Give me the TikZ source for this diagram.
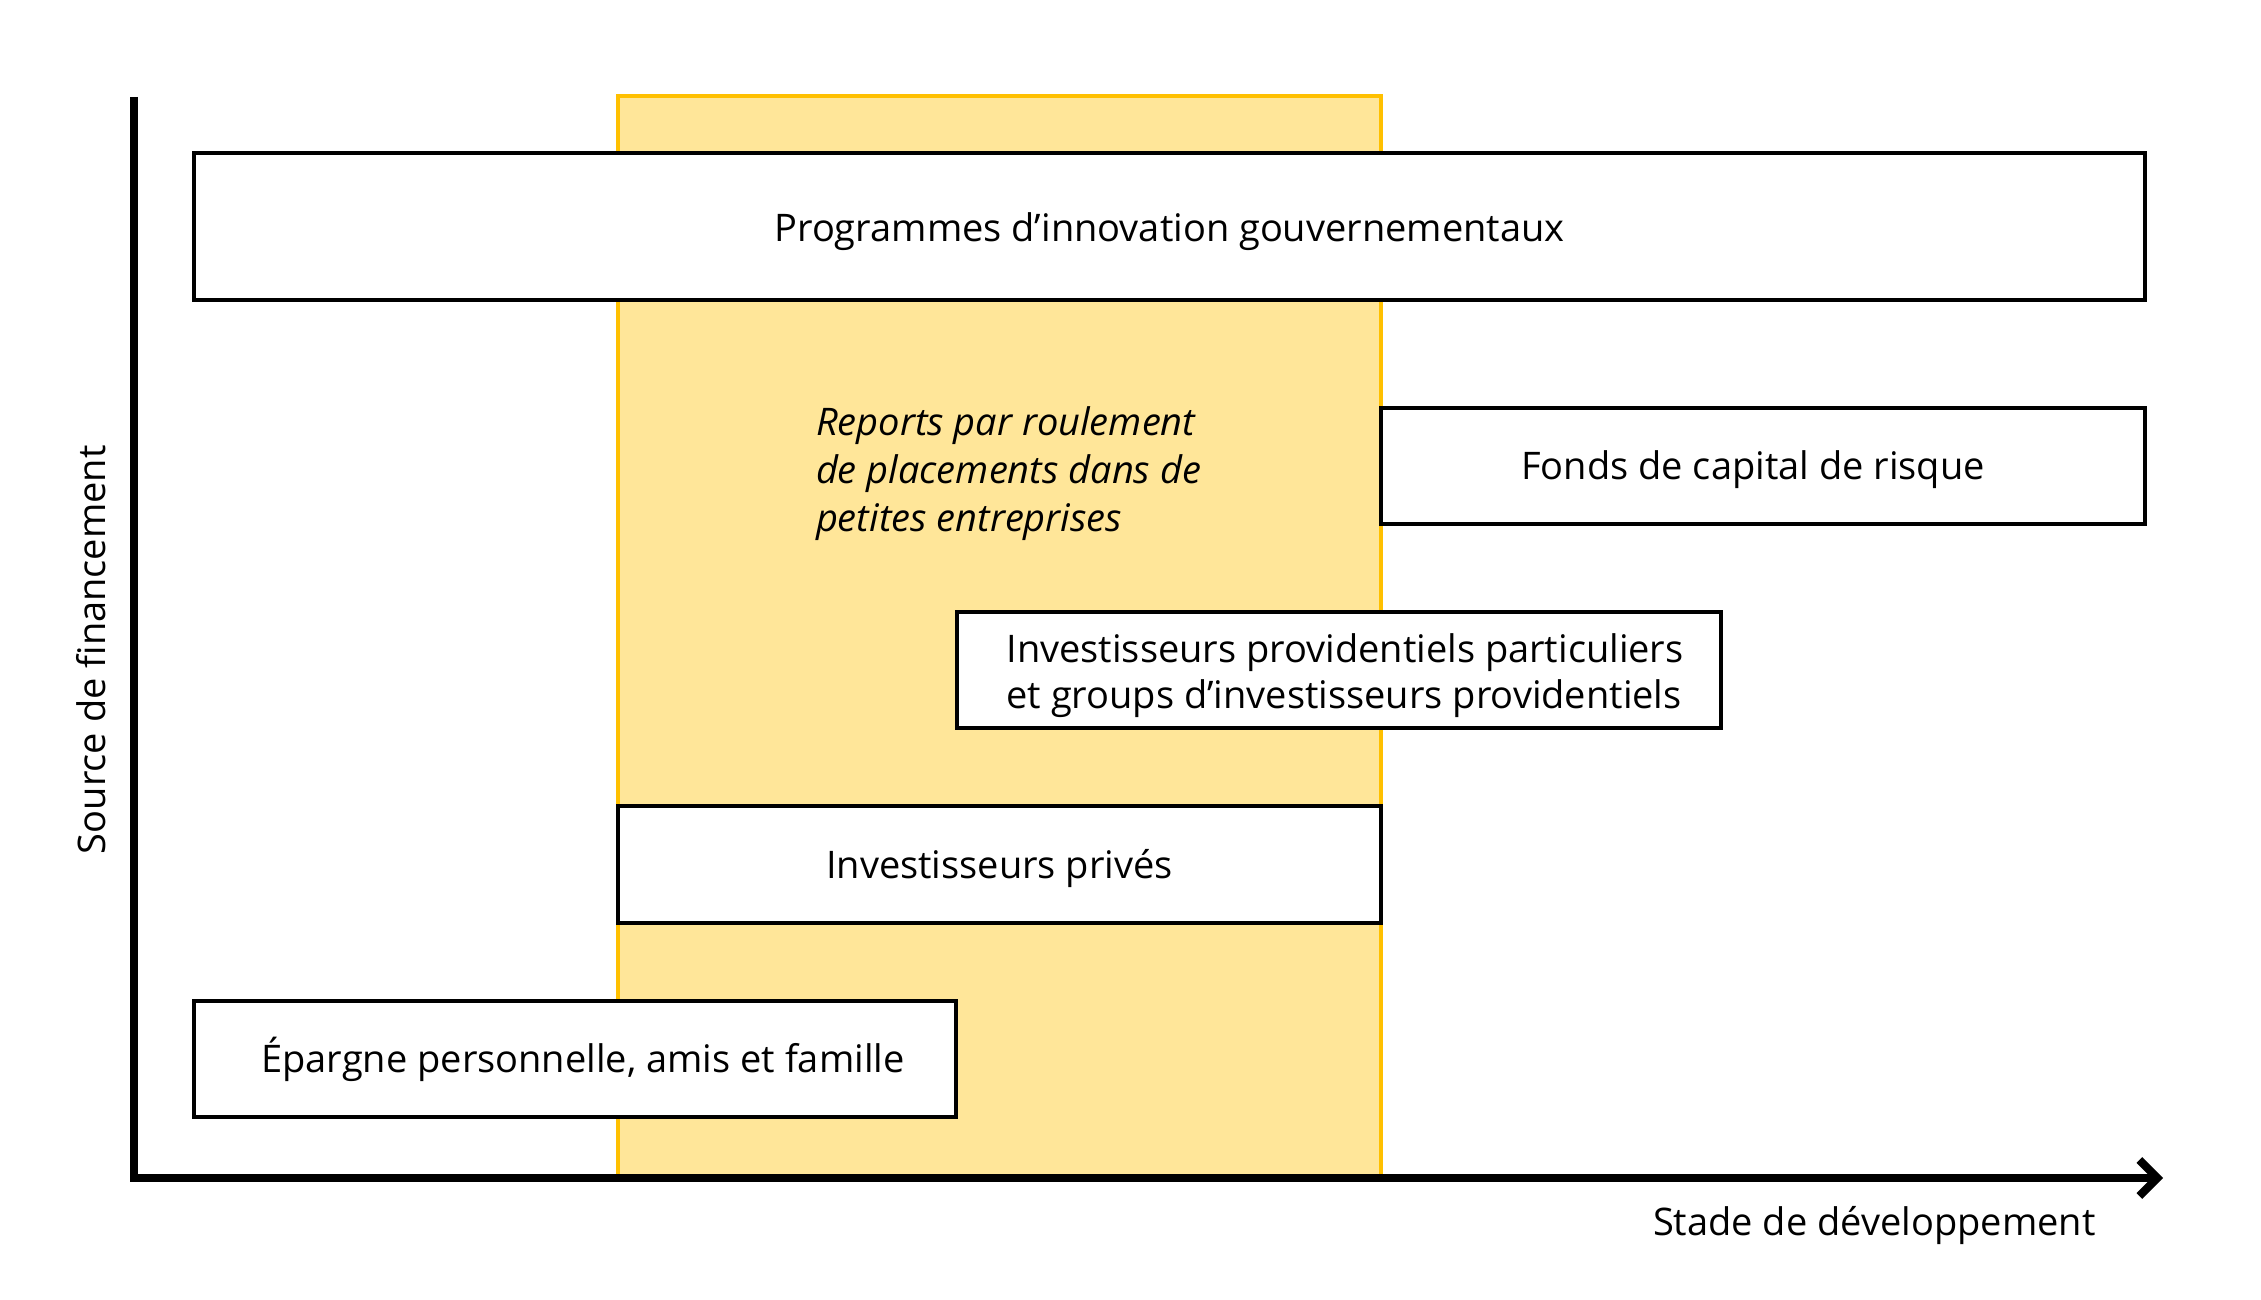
\documentclass[tikz,border=0pt]{standalone}
\usepackage{fontspec}
\setmainfont{Open Sans}
\usetikzlibrary{arrows.meta}
\definecolor{bandfill}{HTML}{FFE699}
\definecolor{bandline}{HTML}{FFC000}
\begin{document}
\begin{tikzpicture}[x=1pt,y=-1pt,
  every node/.style={font=\fontsize{38pt}{46pt}\selectfont, inner sep=0pt, outer sep=0pt},
  box/.style={draw=black, line width=4pt, fill=white, text height=36pt, text depth=8pt},
  band/.style={draw=bandline, fill=bandfill, line width=3.5pt},
  axis/.style={line width=8pt, line join=miter, line cap=butt},
  lbl/.style={anchor=base west}
]
\useasboundingbox (0,0) rectangle (2261,1300);
% highlighted stage
\node[band, minimum width=763pt, minimum height=1082pt] (band) at (999.5,637) {};
% axes
\coordinate (ytop) at (134,97);
\coordinate (origin) at (134,1178);
\coordinate (xend) at (2163,1178);
\draw[axis, -{Straight Barb[length=18pt,width=36pt,sharp]}] (ytop) -- (origin) -- (xend);
\node[lbl] (xlabel) at (1653,1235) {Stade de développement};
\node[lbl, rotate=90] (ylabel) at (105,854) {Source de financement};
% boxes
\node[box, minimum width=1951pt, minimum height=146.5pt, text height=37pt, text depth=7pt] (prog) at (1169.5,226.25) {Programmes d’innovation gouvernementaux};
\node[box, minimum width=764pt, minimum height=115.5pt] (fonds) at (1763,465.75) {Fonds de capital de risque\hspace*{20pt}};
\node[box, minimum width=764pt, minimum height=116pt, text height=30pt, text depth=46pt] (prov) at (1339,670) {\hspace*{12pt}\begin{tabular}[t]{@{}l@{}}Investisseurs providentiels particuliers\\et groups d’investisseurs providentiels\end{tabular}};
\node[box, minimum width=763pt, minimum height=116.5pt] (prives) at (999.5,864.25) {Investisseurs privés};
\node[box, minimum width=762pt, minimum height=115.5pt] (epargne) at (575,1058.75) {\hspace*{16pt}Épargne personnelle, amis et famille};
% italic note
\node[lbl, font=\fontsize{38pt}{48pt}\selectfont\itshape] (note) at (816,435) {\begin{tabular}[t]{@{}l@{}}Reports par roulement\\de placements dans de\\petites entreprises\end{tabular}};
\end{tikzpicture}
\end{document}
